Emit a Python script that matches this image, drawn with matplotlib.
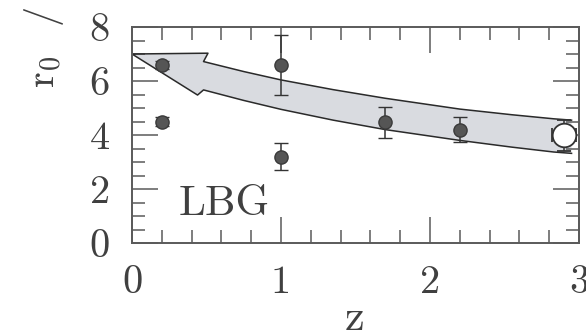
import numpy as np
import matplotlib
matplotlib.use("Agg")
import matplotlib.pyplot as plt
from matplotlib.ticker import MultipleLocator, FixedLocator, FixedFormatter

plt.rcParams["font.family"] = ["cmr10", "DejaVu Serif"]
plt.rcParams["mathtext.fontset"] = "cm"
plt.rcParams["axes.formatter.use_mathtext"] = True

# Clustering length measurements of LBGs
z_filled = [0.2, 0.2, 1.0, 1.0, 1.7, 2.2]
r0_filled = [6.6, 4.5, 6.6, 3.2, 4.5, 4.2]
r0_err_lo = [0.15, 0.15, 1.1, 0.5, 0.6, 0.45]
r0_err_hi = [0.15, 0.15, 1.1, 0.5, 0.55, 0.45]

z_open = [2.9]
r0_open = [4.0]
r0_open_lo = [0.6]
r0_open_hi = [0.55]
z_open_err = [0.08]

# Evolution band (upper and lower edges) and its arrow head
band_z = [0.48, 0.75, 1.0, 1.35, 1.7, 2.2, 2.55, 2.83, 2.95]
band_upper = [6.72, 6.35, 6.04, 5.68, 5.36, 4.96, 4.75, 4.60, 4.55]
band_lower = [5.67, 5.28, 4.95, 4.55, 4.20, 3.80, 3.55, 3.37, 3.32]
head_z = [0.0, 0.51, 0.44]      # tip, upper barb, lower barb
head_r = [7.0, 7.03, 5.48]

x_ticks = [0, 1, 2, 3]
y_ticks = [0, 2, 4, 6, 8]

text_color = "#404040"

fig = plt.figure(figsize=(5.86, 3.34), dpi=100)
ax = fig.add_axes([132 / 586, 1 - 243 / 334, (579 - 132) / 586, (243 - 27) / 334])
ax.set_xlim(0, 3)
ax.set_ylim(0, 8)

# band polygon
poly_z = [head_z[0], head_z[1]] + band_z + band_z[::-1] + [head_z[2]]
poly_r = [head_r[0], head_r[1]] + band_upper + band_lower[::-1] + [head_r[2]]
ax.fill(poly_z, poly_r, color="#d9dbe0", lw=0, zorder=1)
outline_z = band_z[::-1] + [head_z[1], head_z[0], head_z[2]] + band_z
outline_r = band_upper[::-1] + [head_r[1], head_r[0], head_r[2]] + band_lower
ax.plot(outline_z, outline_r, color="#2a2a2a", lw=1.1, zorder=2)

ax.errorbar(z_filled, r0_filled, yerr=[r0_err_lo, r0_err_hi], fmt="o",
            ms=9.5, mfc="#555555", mec="#3a3a3a", mew=1.0,
            ecolor="#333333", elinewidth=1.1, capsize=5, capthick=1.1, zorder=4)
ax.errorbar(z_open, r0_open, yerr=[r0_open_lo, r0_open_hi], xerr=z_open_err,
            fmt="o", ms=17, mfc="white", mec="#333333", mew=1.3,
            ecolor="#333333", elinewidth=1.1, capsize=5, capthick=1.1, zorder=4)

ax.text(0.31, 1.04, "LBG", fontsize=31, color=text_color, ha="left",
        va="baseline", zorder=5)

ax.xaxis.set_major_locator(FixedLocator(x_ticks))
ax.xaxis.set_major_formatter(FixedFormatter([str(t) for t in x_ticks]))
ax.xaxis.set_minor_locator(MultipleLocator(0.2))
ax.yaxis.set_major_locator(FixedLocator(y_ticks))
ax.yaxis.set_major_formatter(FixedFormatter([str(t) for t in y_ticks]))
ax.yaxis.set_minor_locator(MultipleLocator(0.5))

axis_color = "#5a5a5a"
for s in ax.spines.values():
    s.set_color(axis_color)
    s.set_linewidth(1.4)
ax.tick_params(which="both", direction="in", top=True, right=True,
               color=axis_color, width=1.1, labelcolor=text_color)
ax.tick_params(which="major", length=18.5, labelsize=29, pad=16)
ax.tick_params(which="minor", length=9.3)

fig.text(355 / 586, 1 - 319 / 334, "z", fontsize=32, color=text_color,
         ha="center", va="center")
fig.text(44 / 586, 1 - 88 / 334, "r$_0$  /", fontsize=29, color=text_color,
         rotation=90, ha="center", va="bottom")

fig.savefig("out.png", dpi=100)
